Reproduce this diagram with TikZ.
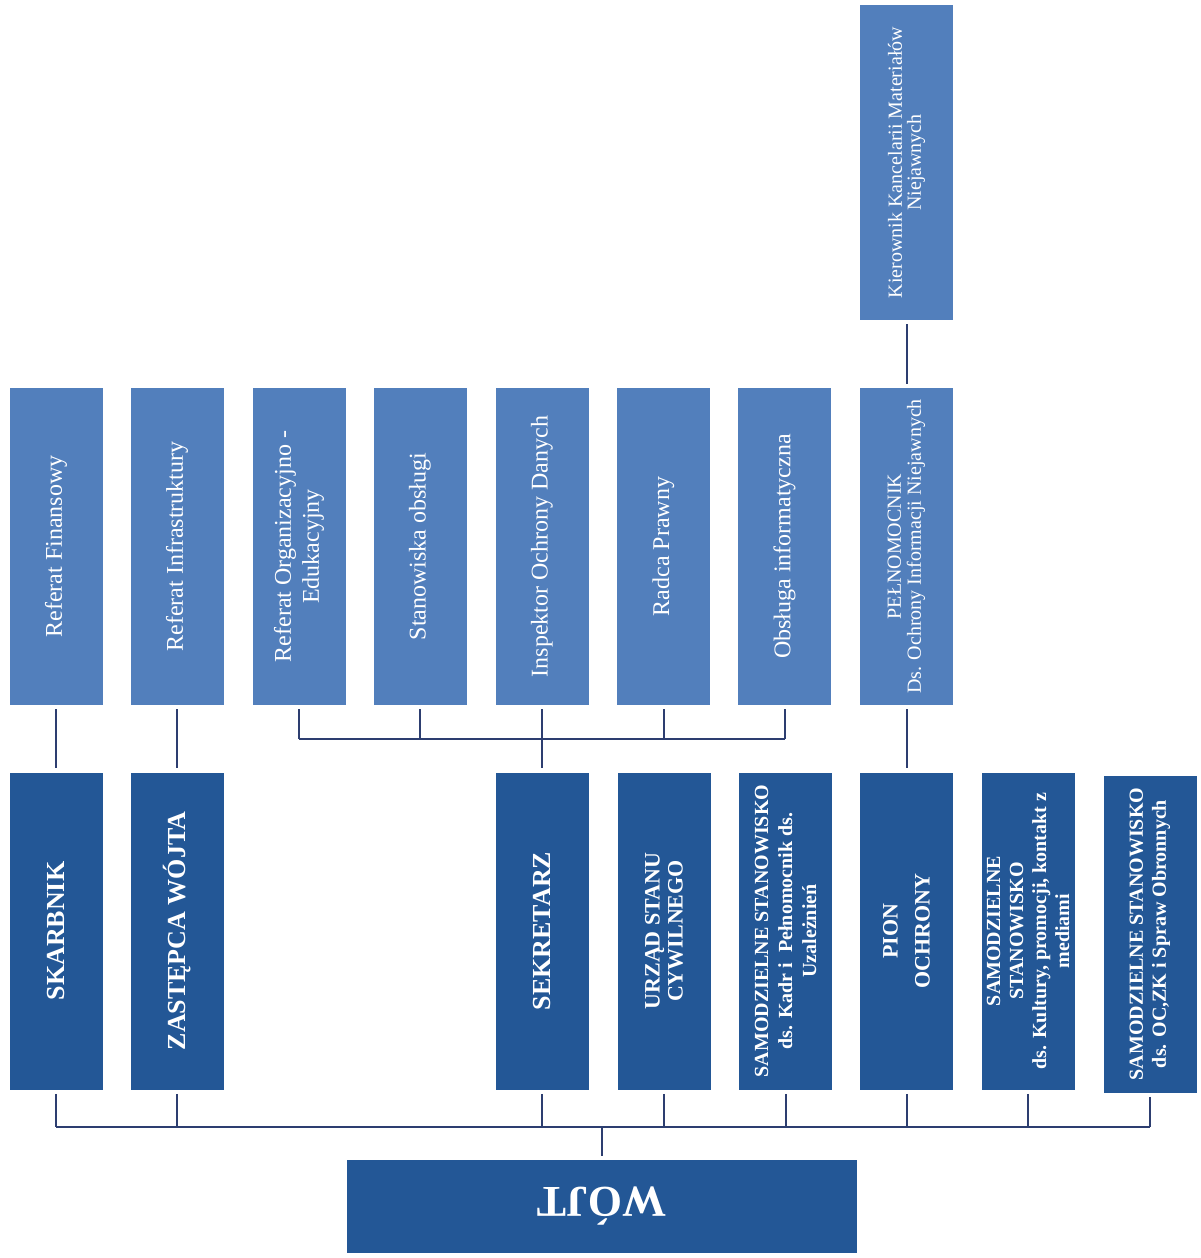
\documentclass[tikz,border=0pt]{standalone}
\usepackage{fontspec}
\setmainfont{Liberation Serif}
\usepackage{tikz}
\definecolor{lightbox}{RGB}{82,127,188}
\definecolor{darkbox}{RGB}{35,87,150}
\definecolor{wline}{RGB}{45,62,112}

\begin{document}
\begin{tikzpicture}[x=0.5pt,y=-0.5pt,
        box/.style={draw=none, text=white, inner sep=1pt, align=center},
        unit/.style={box, fill=lightbox, rotate=90, minimum width=158.5pt, minimum height=46.5pt, font=\fontsize{12}{14}\selectfont},
        post/.style={box, fill=darkbox, rotate=90, minimum width=158.5pt, minimum height=46.5pt, font=\fontsize{13}{15}\selectfont\bfseries},
        conn/.style={draw=wline, line width=1pt}]
        \useasboundingbox (0,0) rectangle (1200,1258);
        \node[unit] (finanse) at (56,546.5) {Referat Finansowy};
        \node[unit] (infra) at (177,546.5) {Referat Infrastruktury};
        \node[unit] (orgedu) at (299,546.5) {Referat Organizacyjno -\\Edukacyjny};
        \node[unit] (obsluga) at (420,546.5) {Stanowiska obsługi};
        \node[unit] (iod) at (542,546.5) {Inspektor Ochrony Danych};
        \node[unit] (radca) at (663.5,546.5) {Radca Prawny};
        \node[unit] (informatyk) at (784.5,546.5) {Obsługa informatyczna};
        \node[unit, font=\fontsize{10}{10}\selectfont] (pelnomocnik) at (906.5,546.5) {PEŁNOMOCNIK\\Ds. Ochrony Informacji Niejawnych};
        \node[unit, minimum width=157.5pt, font=\fontsize{10}{9.5}\selectfont] (kancelaria) at (906.5,162.5) {Kierownik Kancelarii Materiałów\\Niejawnych};
        \node[post] (skarbnik) at (56,931) {SKARBNIK};
        \node[post] (zastepca) at (177,931) {ZASTĘPCA WÓJTA};
        \node[post] (sekretarz) at (542,931) {SEKRETARZ};
        \node[post, font=\fontsize{11}{11.5}\selectfont\bfseries] (usc) at (664,931) {URZĄD STANU\\CYWILNEGO};
        \node[post, font=\fontsize{10}{12}\selectfont\bfseries] (kadry) at (785.5,931) {SAMODZIELNE STANOWISKO\\ds. Kadr i\ \ Pełnomocnik ds.\\Uzależnień};
        \node[post, font=\fontsize{11}{12}\selectfont\bfseries] (pion) at (906.5,931) {PION\\[4pt]OCHRONY};
        \node[post, font=\fontsize{10}{11.5}\selectfont\bfseries] (kultura) at (1028,931) {SAMODZIELNE\\STANOWISKO\\ds. Kultury, promocji, kontakt z\\mediami};
        \node[post, font=\fontsize{10}{11.5}\selectfont\bfseries] (obrona) at (1150,934) {SAMODZIELNE STANOWISKO\\ds. OC,ZK i Spraw Obronnych};
        \node[box, fill=darkbox, rotate=180, minimum width=255pt, minimum height=46.5pt, font=\fontsize{22}{24}\selectfont\bfseries] (wojt) at (602,1206.5) {WÓJT};
        \coordinate (bus) at (602,1127);
        \coordinate (sekbus) at (542,739);
        \draw[conn] (skarbnik.west |- bus) -- (obrona.west |- bus);
        \foreach \n in {skarbnik,zastepca,sekretarz,usc,kadry,pion,kultura,obrona}
            \draw[conn, shorten <=2pt] (\n.west) -- (\n.west |- bus);
        \draw[conn, shorten >=2pt] (bus) -- (wojt.south);
        \draw[conn] (orgedu.west |- sekbus) -- (informatyk.west |- sekbus);
        \foreach \n in {orgedu,obsluga,iod,radca,informatyk}
            \draw[conn, shorten <=2pt] (\n.west) -- (\n.west |- sekbus);
        \draw[conn, shorten >=2pt] (sekbus) -- (sekretarz.east);
        \draw[conn, shorten <=2pt, shorten >=2pt] (finanse.west) -- (skarbnik.east);
        \draw[conn, shorten <=2pt, shorten >=2pt] (infra.west) -- (zastepca.east);
        \draw[conn, shorten <=2pt, shorten >=2pt] (pelnomocnik.west) -- (pion.east);
        \draw[conn, shorten <=2pt, shorten >=2pt] (kancelaria.west) -- (pelnomocnik.east);
\end{tikzpicture}
\end{document}
